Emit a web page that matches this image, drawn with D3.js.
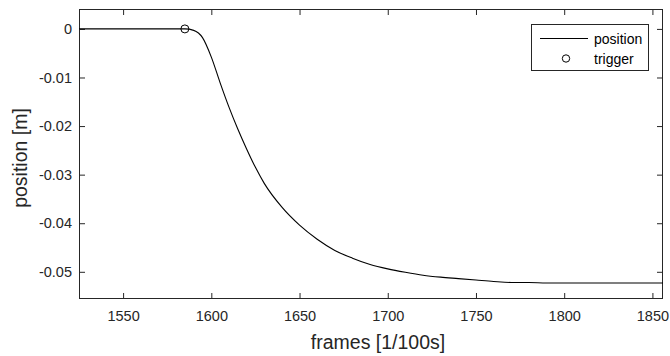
<!DOCTYPE html>
<html>
<head>
<meta charset="utf-8">
<script src="https://cdn.jsdelivr.net/npm/d3@7"></script>
<style>
  html, body { margin: 0; padding: 0; background: #fff; }
  svg { display: block; font-family: "Liberation Sans", Arial, Helvetica, sans-serif; }
</style>
</head>
<body>
<svg id="chart" width="670" height="356"></svg>
<script>
// ---- data ----
const frames = [1525, 1585, 1590, 1595, 1600, 1605, 1610, 1615, 1620, 1625, 1630, 1640, 1650, 1660, 1670, 1680, 1690, 1700, 1710, 1720, 1730, 1740, 1750, 1760, 1770, 1780, 1790, 1856];
const position = [0, 0, -0.0003, -0.0018, -0.0058, -0.0111, -0.0161, -0.0206, -0.0247, -0.0285, -0.0318, -0.0367, -0.0404, -0.0433, -0.0456, -0.0472, -0.0485, -0.0494, -0.0501, -0.0507, -0.0511, -0.0514, -0.0517, -0.0520, -0.0522, -0.0522, -0.0523, -0.0523];
const triggerFrame = [1585];
const triggerPosition = [0];
const xTicks = [1550, 1600, 1650, 1700, 1750, 1800, 1850];
const yTicks = [0, -0.01, -0.02, -0.03, -0.04, -0.05];
const yTickLabels = ["0", "-0.01", "-0.02", "-0.03", "-0.04", "-0.05"];
const xDomain = [1525, 1856];
const yDomain = [-0.0556, 0.0041];
const legendLabels = ["position", "trigger"];
const xLabel = "frames [1/100s]";
const yLabel = "position [m]";

// ---- layout ----
const L = 79, R = 663, T = 9, B = 299;
const axisColor = "#262626";
const svg = d3.select("#chart");

const x = d3.scaleLinear().domain(xDomain).range([L, R]);
const y = d3.scaleLinear().domain(yDomain).range([B, T]);

function styleAxis(g) {
  g.select(".domain").remove();
  g.selectAll(".tick line").attr("stroke", axisColor).attr("stroke-width", 1);
  g.selectAll(".tick text").attr("fill", axisColor).style("font-size", "14.5px")
    .style("font-family", '"Liberation Sans", Arial, Helvetica, sans-serif');
}

// bottom axis
svg.append("g").attr("transform", `translate(0,${B})`)
  .call(d3.axisBottom(x).tickValues(xTicks).tickSize(-6).tickPadding(12).tickFormat(d3.format("d")))
  .call(styleAxis);
// top axis (ticks only)
svg.append("g").attr("transform", `translate(0,${T})`)
  .call(d3.axisTop(x).tickValues(xTicks).tickSize(-6).tickFormat(""))
  .call(styleAxis);
// left axis
svg.append("g").attr("transform", `translate(${L},0)`)
  .call(d3.axisLeft(y).tickValues(yTicks).tickSize(-6).tickPadding(7).tickFormat((d, i) => yTickLabels[i]))
  .call(styleAxis);
// right axis (ticks only)
svg.append("g").attr("transform", `translate(${R},0)`)
  .call(d3.axisRight(y).tickValues(yTicks).tickSize(-6).tickFormat(""))
  .call(styleAxis);

// box
svg.append("rect")
  .attr("x", L + 0.5).attr("y", T + 0.5)
  .attr("width", R - L - 1).attr("height", B - T - 1)
  .attr("fill", "none").attr("stroke", axisColor).attr("stroke-width", 1);

// line
const data = frames.map((f, i) => ({ f, p: position[i] }));
const line = d3.line().x(d => x(d.f)).y(d => y(d.p)).curve(d3.curveMonotoneX);
svg.append("path").datum(data)
  .attr("d", line).attr("fill", "none").attr("stroke", "#000").attr("stroke-width", 1.1);

// trigger marker
svg.selectAll("circle.trig").data(triggerFrame.map((f, i) => ({ f, p: triggerPosition[i] })))
  .enter().append("circle").attr("class", "trig")
  .attr("cx", d => x(d.f)).attr("cy", d => y(d.p)).attr("r", 4)
  .attr("fill", "none").attr("stroke", "#000").attr("stroke-width", 1);

// axis labels
svg.append("text").attr("x", 378).attr("y", 349)
  .attr("text-anchor", "middle").attr("fill", axisColor)
  .style("font-size", "19.5px").text(xLabel);
svg.append("text").attr("transform", "translate(26.5,158) rotate(-90)")
  .attr("text-anchor", "middle").attr("fill", axisColor)
  .style("font-size", "19.5px").text(yLabel);

// legend
const lg = svg.append("g");
lg.append("rect").attr("x", 531.5).attr("y", 24.5).attr("width", 117).attr("height", 46)
  .attr("fill", "#fff").attr("stroke", axisColor).attr("stroke-width", 1);
lg.append("line").attr("x1", 540).attr("x2", 588).attr("y1", 38.5).attr("y2", 38.5)
  .attr("stroke", "#000").attr("stroke-width", 1.1);
lg.append("circle").attr("cx", 566).attr("cy", 58.5).attr("r", 3.7)
  .attr("fill", "none").attr("stroke", "#000").attr("stroke-width", 1);
lg.selectAll("text.leg").data(legendLabels).enter().append("text").attr("class", "leg")
  .attr("x", 594).attr("y", (d, i) => 43.5 + i * 20)
  .attr("fill", "#000").style("font-size", "14px").text(d => d);
</script>
</body>
</html>
